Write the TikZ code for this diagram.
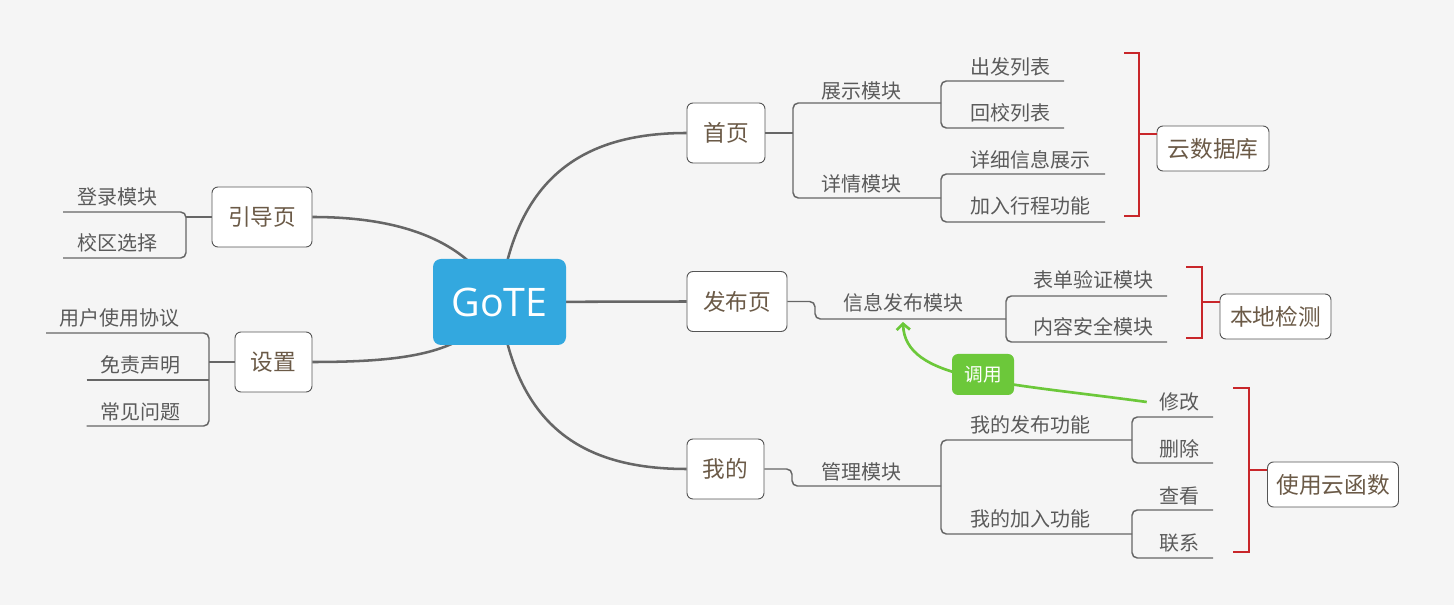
\documentclass[tikz,border=0pt]{standalone}
\usepackage{fontspec}
\newfontfamily\cjk{Noto Sans CJK SC}
\newfontfamily\latinf{Open Sans}
\usetikzlibrary{arrows.meta}
\definecolor{bgc}{HTML}{F5F5F5}
\definecolor{linec}{HTML}{666666}
\definecolor{boxline}{HTML}{555555}
\definecolor{brownt}{HTML}{6B5A47}
\definecolor{leaft}{HTML}{5A5A5A}
\definecolor{bluec}{HTML}{33A8DF}
\definecolor{greenc}{HTML}{6CC83A}
\definecolor{redc}{HTML}{C8262A}
\tikzset{
  topic/.style={draw=boxline, fill=white, rounded corners=4.5pt, line width=0.7pt,
    font=\cjk\fontsize{17}{20}\selectfont, text=brownt, inner sep=0pt},
  leaf/.style={font=\cjk\fontsize{15}{18}\selectfont, text=leaft, inner sep=1pt},
  mainline/.style={draw=linec, line width=1.9pt},
  subline/.style={draw=linec, line width=1.1pt, rounded corners=4pt},
  brk/.style={draw=redc, line width=1.1pt},
  callline/.style={draw=greenc, line width=2pt},
}
\begin{document}
\begin{tikzpicture}[x=0.75pt,y=-0.75pt]
\fill[bgc] (0,0) rectangle (1454,605);
\useasboundingbox (0,0) rectangle (1454,605);
\coordinate (gc) at (499.5,302);

% first-level topics
\node[topic, minimum width=58.5pt, minimum height=45pt] (sy) at (726,133) {首页};
\node[topic, minimum width=75pt, minimum height=45pt] (fby) at (737,301.5) {发布页};
\node[topic, minimum width=57.75pt, minimum height=45pt] (wd) at (725.5,469) {我的};
\node[topic, minimum width=75pt, minimum height=45pt] (ydy) at (262,217) {引导页};
\node[topic, minimum width=57.75pt, minimum height=45pt] (sz) at (273.5,362) {设置};

% main curves (drawn before central topic so it covers them)
\draw[mainline] (ydy.east) .. controls (400,217) and (470,240) .. (gc);
\draw[mainline] (sz.east) .. controls (420,362) and (470,350) .. (gc);
\draw[mainline] (gc) .. controls (515,180) and (580,133) .. (sy.west);
\draw[mainline] (gc) -- (fby.west);
\draw[mainline] (gc) .. controls (515,424) and (580,469) .. (wd.west);

\node[draw=none, fill=bluec, rounded corners=6pt, minimum width=99.75pt, minimum height=64.5pt,
  text=white, font=\latinf\fontsize{29.5}{34}\selectfont, inner sep=0pt] (gote) at (gc) {GoTE};

% side topics
\node[topic, minimum width=84pt, minimum height=33.75pt] (ysj) at (1213,148.5) {云数据库};
\node[topic, minimum width=83.25pt, minimum height=33.75pt] (bdjc) at (1275.5,316.5) {本地检测};
\node[topic, minimum width=98.25pt, minimum height=33.75pt] (syh) at (1333,484.5) {使用云函数};

% ---- 首页 subtree
\node[leaf] (zs) at (861,90.5) {展示模块};
\node[leaf] (xq) at (861,184) {详情模块};
\node[leaf] (cf) at (1010,66.5) {出发列表};
\node[leaf] (hx) at (1010,113) {回校列表};
\node[leaf] (xx) at (1030,160) {详细信息展示};
\node[leaf] (jr) at (1030,206) {加入行程功能};
\draw[subline] (sy.east) -- (793,133);
\draw[subline] (941,103) -- (793,103) -- (793,198) -- (941,198);
\draw[subline] (1064,81) -- (941,81) -- (941,128) -- (1064,128);
\draw[subline] (1105,174) -- (941,174) -- (941,222) -- (1105,222);
\draw[brk] (1124,53) -- (1139,53) -- (1139,216) -- (1124,216);
\draw[brk] (1139,134) -- (ysj.west |- 1139,134);

% ---- 发布页 subtree
\node[leaf] (xxfb) at (903,303) {信息发布模块};
\node[leaf] (bd) at (1093,280) {表单验证模块};
\node[leaf] (nr) at (1093,327) {内容安全模块};
\draw[subline] (fby.east) -- (815,301.5) -- (815,319) -- (1006,319);
\draw[subline] (1167,296) -- (1006,296) -- (1006,342) -- (1167,342);
\draw[brk] (1186,267) -- (1202,267) -- (1202,338) -- (1186,338);
\draw[brk] (1202,302) -- (bdjc.west |- 1202,302);

% ---- 我的 subtree
\node[leaf] (gl) at (861,472) {管理模块};
\node[leaf] (wfb) at (1030,425) {我的发布功能};
\node[leaf] (wjr) at (1030,519) {我的加入功能};
\node[leaf] (xg) at (1179,402) {修改};
\node[leaf] (sc) at (1179,449) {删除};
\node[leaf] (ck) at (1179,496) {查看};
\node[leaf] (lx) at (1179,543) {联系};
\draw[subline] (wd.east) -- (792,469) -- (792,486) -- (941,486);
\draw[subline] (1132,440) -- (941,440) -- (941,534) -- (1132,534);
\draw[subline] (1213,417) -- (1132,417) -- (1132,463) -- (1213,463);
\draw[subline] (1213,510) -- (1132,510) -- (1132,558) -- (1213,558);
\draw[brk] (1233,388) -- (1249,388) -- (1249,552) -- (1233,552);
\draw[brk] (1249,470) -- (syh.west |- 1249,470);

% ---- 引导页 subtree
\node[leaf] (dl) at (117,197) {登录模块};
\node[leaf] (xqxz) at (117,243) {校区选择};
\draw[subline] (ydy.west) -- (186,217);
\draw[subline] (63,212) -- (186,212) -- (186,258) -- (63,258);

% ---- 设置 subtree
\node[leaf] (yh) at (120,318) {用户使用协议};
\node[leaf] (mz) at (140,365) {免责声明};
\node[leaf] (cj) at (140,412) {常见问题};
\draw[subline] (sz.west) -- (209,362);
\draw[subline] (46,333) -- (209,333) -- (209,426) -- (86.5,426);
\draw[subline] (86.5,380) -- (209,380);

% ---- relationship 调用
\coordinate (tip) at (903,322);
\draw[callline, -{Straight Barb[length=4.5pt, width=10pt]}] ([xshift=-8pt]xg.west) .. controls (1000,382) and (905,380) .. (tip);
\node[fill=greenc, rounded corners=4.5pt, minimum width=46.5pt, minimum height=30.75pt, inner sep=0pt,
  text=white, font=\cjk\fontsize{14}{17}\selectfont] (dy) at (983,374.5) {调用};
\end{tikzpicture}
\end{document}
